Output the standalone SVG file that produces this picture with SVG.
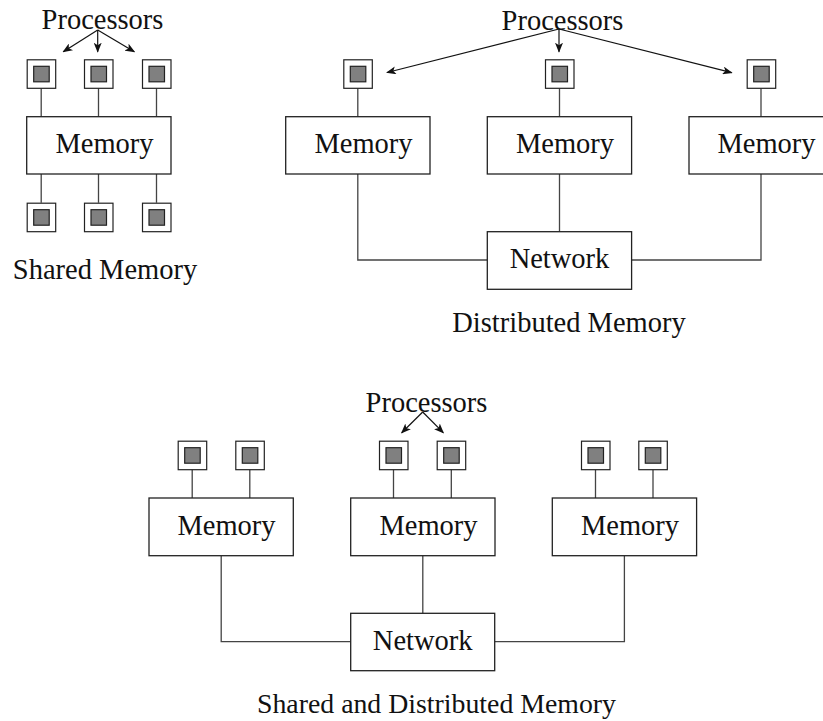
<svg xmlns="http://www.w3.org/2000/svg" width="823" height="721" viewBox="0 0 823 721">
<defs>
<marker id="ah" markerUnits="userSpaceOnUse" markerWidth="10" markerHeight="8" refX="9" refY="4" orient="auto">
<path d="M0,0 L10,4 L0,8 L2.5,4 Z" fill="#111"/>
</marker>
<g id="cpu">
<rect x="0.5" y="0.5" width="28.5" height="28.5" fill="#fff" stroke="#222" stroke-width="1.2"/>
<rect x="7" y="7" width="15.5" height="15.5" fill="#808080" stroke="#222" stroke-width="1.2"/>
</g>
</defs>
<style>
.box{fill:#fff;stroke:#222;stroke-width:1.3}
.ln{fill:none;stroke:#444;stroke-width:1.3}
.ar{fill:none;stroke:#111;stroke-width:1.2;marker-end:url(#ah)}
text{font-family:"Liberation Serif","Times New Roman",serif;font-size:28.5px;fill:#111;text-anchor:middle}
</style>
<rect width="823" height="721" fill="#fff"/>

<g id="connectors">
<!-- shared -->
<path class="ln" d="M41.2,88.3V116.7 M98.5,88.3V116.7 M156.5,88.3V116.7 M41.2,174V202.7 M98.5,174V202.7 M156.5,174V202.7"/>
<path class="ar" d="M97.7,30L63.3,51.7"/>
<path class="ar" d="M97.7,30L97.7,51.7"/>
<path class="ar" d="M97.7,30L134.3,51.7"/>
<!-- distributed -->
<path class="ln" d="M357.8,88.3V116.7 M559.5,88.3V116.7 M761,88.3V116.7"/>
<path class="ln" d="M357.8,174V260H487.3 M559.5,174V231.7 M631.7,260H761V174"/>
<path class="ar" d="M559,29L387,72.5"/>
<path class="ar" d="M559,29L559,51.7"/>
<path class="ar" d="M559,29L731.7,72.7"/>
<!-- hybrid -->
<path class="ln" d="M192.2,469.3V498 M249.8,469.3V498 M393.5,469.3V498 M451.3,469.3V498 M595.5,469.3V498 M653,469.3V498"/>
<path class="ln" d="M221.2,555.7V641.7H350.7 M422.8,555.7V613.3 M494.7,641.7H624.4V555.7"/>
<path class="ar" d="M422.7,412L401.7,432.7"/>
<path class="ar" d="M422.7,412L443.3,432.7"/>
</g>

<g id="shared-memory">
<text x="102.5" y="29">Processors</text>
<use href="#cpu" x="26.7" y="59.3"/>
<use href="#cpu" x="84" y="59.3"/>
<use href="#cpu" x="142" y="59.3"/>
<rect class="box" x="26.7" y="116.7" width="144.3" height="57.3"/>
<text x="104.5" y="153.3">Memory</text>
<use href="#cpu" x="26.7" y="202.7"/>
<use href="#cpu" x="84" y="202.7"/>
<use href="#cpu" x="142" y="202.7"/>
<text x="105" y="279.3">Shared Memory</text>
</g>

<g id="distributed-memory">
<text x="562.5" y="30">Processors</text>
<use href="#cpu" x="343.3" y="59.3"/>
<use href="#cpu" x="545" y="59.3"/>
<use href="#cpu" x="746.7" y="59.3"/>
<g id="dm-mem1"><rect class="box" x="285.7" y="116.7" width="144.3" height="57.3"/><text x="363.5" y="153.3">Memory</text></g>
<g id="dm-mem2"><rect class="box" x="487.3" y="116.7" width="144.3" height="57.3"/><text x="565" y="153.3">Memory</text></g>
<g id="dm-mem3"><rect class="box" x="689" y="116.7" width="144.3" height="57.3"/><text x="766.5" y="153.3">Memory</text></g>
<g id="dm-net"><rect class="box" x="487.3" y="231.7" width="144.3" height="57.6"/><text x="559.5" y="268.3">Network</text></g>
<text x="569" y="331.7">Distributed Memory</text>
</g>

<g id="hybrid-memory">
<text x="426.5" y="411.7">Processors</text>
<use href="#cpu" x="177.7" y="440.7"/>
<use href="#cpu" x="235.3" y="440.7"/>
<use href="#cpu" x="379" y="440.7"/>
<use href="#cpu" x="436.7" y="440.7"/>
<use href="#cpu" x="581" y="440.7"/>
<use href="#cpu" x="638.3" y="440.7"/>
<g id="hm-mem1"><rect class="box" x="149" y="498" width="144.3" height="57.7"/><text x="226.5" y="534.6">Memory</text></g>
<g id="hm-mem2"><rect class="box" x="350.7" y="498" width="144.3" height="57.7"/><text x="428.5" y="534.6">Memory</text></g>
<g id="hm-mem3"><rect class="box" x="552.3" y="498" width="144.3" height="57.7"/><text x="630" y="534.6">Memory</text></g>
<g id="hm-net"><rect class="box" x="350.7" y="613.3" width="144" height="57.4"/><text x="422.7" y="650">Network</text></g>
<text x="436.5" y="713" style="font-size:27.8px">Shared and Distributed Memory</text>
</g>
</svg>
